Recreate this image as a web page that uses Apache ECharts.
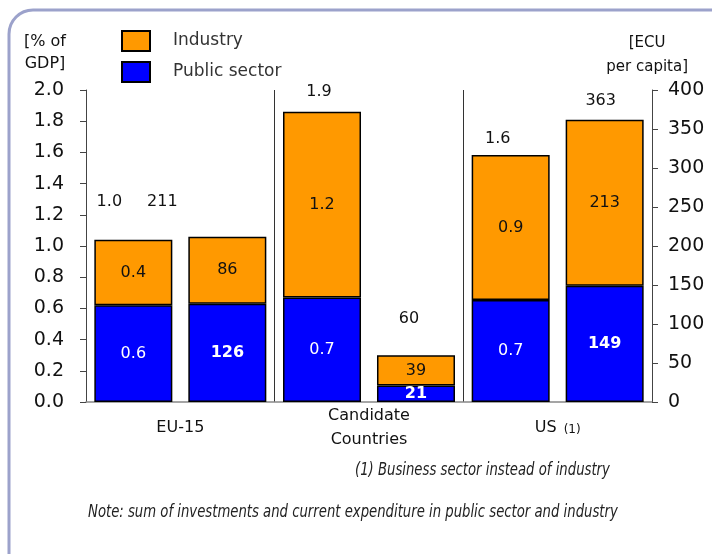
<!DOCTYPE html>
<html>
<head>
<meta charset="utf-8">
<script src="https://cdn.jsdelivr.net/npm/echarts@6/dist/echarts.min.js"></script>
<style>
  html, body { margin: 0; padding: 0; background: #fff; }
  #chart { width: 712px; height: 554px; }
</style>
</head>
<body>
<div id="chart"></div>
<script>
// groups on the x axis
var categories = ['EU-15', 'Candidate\nCountries', 'US (1)'];

// left bar of each group: % of GDP
var pctPublic = [0.62, 0.67, 0.654];
var pctIndustry = [0.42, 1.19, 0.93];
var pctTotal = [1.0, 1.9, 1.6];

// right bar of each group: ECU per capita
var ecuPublic = [126, 21, 149];
var ecuIndustry = [86, 39, 213];
var ecuTotal = [211, 60, 363];

// where the total labels sit relative to the top of their bar
var pctTotalOffset = [[-24, -29], [-3, -11], [-13, -8]];
var ecuTotalOffset = [[-65, -26], [-7, -28], [-4, -10]];

var ORANGE = '#ff9900';
var BLUE = '#0000ff';
var FONT = '"DejaVu Sans", sans-serif';

var myChart = echarts.init(document.getElementById('chart'));

function segment(name, stack, axis, data, color, labelColor, bold, fmt) {
    return {
        name: name,
        type: 'bar',
        stack: stack,
        yAxisIndex: axis,
        barWidth: 78,
        barGap: '20.5%',
        data: data,
        itemStyle: { color: color, borderColor: '#000', borderWidth: 1.5 },
        label: {
            show: true,
            position: 'inside',
            color: labelColor,
            fontFamily: FONT,
            fontSize: 16,
            fontWeight: bold ? 'bold' : 'normal',
            formatter: fmt
        }
    };
}

function totals(stack, axis, vals, offsets, fmt) {
    return {
        name: 'total',
        type: 'bar',
        stack: stack,
        yAxisIndex: axis,
        barWidth: 78,
        barGap: '20.5%',
        data: vals.map(function (v, i) {
            return { value: 0, label: { offset: offsets[i] } };
        }),
        itemStyle: { color: 'transparent', borderWidth: 0 },
        label: {
            show: true,
            position: 'top',
            distance: 0,
            color: '#111',
            fontFamily: FONT,
            fontSize: 16,
            lineHeight: 17,
            formatter: function (p) { return fmt(vals[p.dataIndex]); }
        }
    };
}

var pctFmt = function (p) { return p.value.toFixed(1); };
var ecuFmt = function (p) { return String(p.value); };

myChart.setOption({
    animation: false,
    grid: { left: 86, right: 60, top: 90, bottom: 152 },
    legend: {
        data: ['Industry', 'Public sector'],
        orient: 'vertical',
        left: 116,
        top: 25,
        icon: 'rect',
        itemWidth: 28,
        itemHeight: 20,
        itemGap: 9,
        selectedMode: false,
        textStyle: {
            fontFamily: FONT,
            fontSize: 17,
            color: '#333',
            padding: [8, 0, 0, 18]
        }
    },
    xAxis: {
        type: 'category',
        data: categories,
        axisTick: { show: false },
        axisLine: { lineStyle: { color: '#888', width: 1.5 } },
        splitLine: { show: true, lineStyle: { color: '#333', width: 1 } },
        axisLabel: {
            margin: 26,
            verticalAlign: 'middle',
            lineHeight: 24,
            color: '#111',
            fontFamily: FONT,
            fontSize: 16,
            formatter: function (v) {
                var m = v.match(/^(.*) (\(\d\))$/);
                return m ? '{a|' + m[1] + '} {b|' + m[2] + '}' : v;
            },
            rich: {
                a: { fontFamily: FONT, fontSize: 16, color: '#111' },
                b: { fontFamily: FONT, fontSize: 12, color: '#111', padding: [4, 0, 0, 2] }
            }
        }
    },
    yAxis: [
        {
            type: 'value',
            min: 0,
            max: 2,
            interval: 0.2,
            splitLine: { show: false },
            axisLine: { show: true, lineStyle: { color: '#444' } },
            axisTick: { show: true, length: 6, lineStyle: { color: '#444' } },
            axisLabel: {
                margin: 22,
                color: '#111',
                fontFamily: FONT,
                fontSize: 19,
                formatter: function (v) { return v.toFixed(1); }
            }
        },
        {
            type: 'value',
            min: 0,
            max: 400,
            interval: 50,
            position: 'right',
            splitLine: { show: false },
            axisLine: { show: true, lineStyle: { color: '#444' } },
            axisTick: { show: true, length: 6, lineStyle: { color: '#444' } },
            axisLabel: {
                margin: 16,
                color: '#111',
                fontFamily: FONT,
                fontSize: 19
            }
        }
    ],
    series: [
        segment('Public sector', 'pct', 0, pctPublic, BLUE, '#fff', false, pctFmt),
        segment('Industry', 'pct', 0, pctIndustry, ORANGE, '#111', false, pctFmt),
        totals('pct', 0, pctTotal, pctTotalOffset, function (v) { return v.toFixed(1); }),
        segment('Public sector', 'ecu', 1, ecuPublic, BLUE, '#fff', true, ecuFmt),
        segment('Industry', 'ecu', 1, ecuIndustry, ORANGE, '#111', false, ecuFmt),
        totals('ecu', 1, ecuTotal, ecuTotalOffset, function (v) { return String(v); })
    ],
    graphic: [
        {
            type: 'rect',
            z: -10,
            shape: { x: 9, y: 10, width: 730, height: 570, r: 24 },
            style: { fill: 'none', stroke: '#9ca2cb', lineWidth: 3 }
        },
        {
            type: 'text', left: 24, top: 31,
            style: { text: '[% of\nGDP]', fill: '#111', font: '16px ' + FONT, lineHeight: 22, textAlign: 'center' }
        },
        {
            type: 'text', right: 24, top: 31,
            style: { text: '[ECU\nper capita]', fill: '#111', font: '15px ' + FONT, lineHeight: 24, textAlign: 'center' }
        },
        {
            // the original uses a condensed italic face, squeeze it horizontally
            type: 'text', x: 355, y: 470, scaleX: 0.735,
            style: { text: '(1) Business sector instead of industry', fill: '#222', font: 'italic 18px ' + FONT, textVerticalAlign: 'middle' }
        },
        {
            type: 'text', x: 88, y: 512, scaleX: 0.735,
            style: { text: 'Note: sum of investments and current expenditure in public sector and industry', fill: '#222', font: 'italic 18px ' + FONT, textVerticalAlign: 'middle' }
        }
    ]
});
</script>
</body>
</html>
